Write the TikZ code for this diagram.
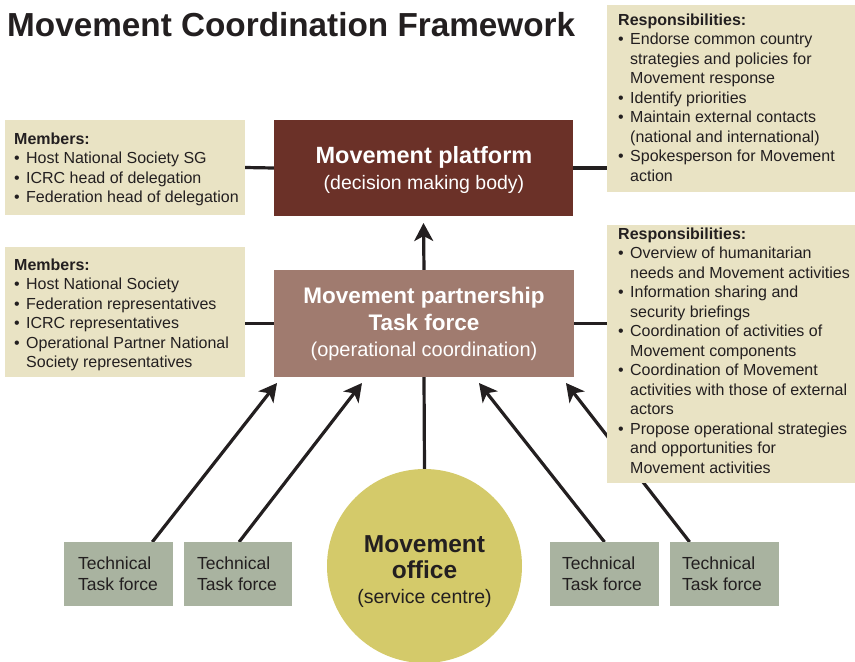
\documentclass[tikz,border=0pt]{standalone}
\usepackage{fontspec}
\setmainfont{Liberation Sans}
\usetikzlibrary{arrows.meta,shapes.geometric,backgrounds,calc}
\definecolor{beige}{HTML}{E9E3C4}
\definecolor{platbrown}{HTML}{6B3128}
\definecolor{tfbrown}{HTML}{A07B6F}
\definecolor{techgray}{HTML}{A9B3A0}
\definecolor{officeyel}{HTML}{D4CA6A}
\definecolor{ink}{HTML}{231F20}
\newcommand\bul{\makebox[12pt][l]{\textbullet}}
\newcommand\ind{\hspace*{12pt}}
\begin{document}
\begin{tikzpicture}[x=1pt,y=-1pt,
  box/.style={draw=none,inner sep=0pt,outer sep=0pt,anchor=north west},
  infotext/.style={inner sep=0pt,anchor=north west,align=left,text=ink,font=\fontsize{16}{19.5}\selectfont},
  techtext/.style={inner sep=0pt,anchor=north west,align=left,text=ink,font=\fontsize{17.5}{21}\selectfont},
  conn/.style={draw=ink,line width=3.2pt},
  arr/.style={conn,-{Stealth[length=18pt,width=19pt,inset=5pt]}},
  whitebold/.style={anchor=base,text=white,inner sep=0pt},
]
\useasboundingbox (0,0) rectangle (855,662);

% title
\node[anchor=base west,inner sep=0pt,text=ink,font=\bfseries\fontsize{33.3}{36}\selectfont] (title) at (7,36) {Movement Coordination Framework};

% boxes
\node[box,fill=beige,minimum width=240pt,minimum height=95pt] (m1) at (5,120) {};
\node[box,fill=platbrown,minimum width=299pt,minimum height=96pt] (plat) at (274,120) {};
\node[box,fill=beige,minimum width=248pt,minimum height=187pt] (r1) at (607,5) {};
\node[box,fill=beige,minimum width=240pt,minimum height=130pt] (m2) at (5,247) {};
\node[box,fill=tfbrown,minimum width=300pt,minimum height=107pt] (tf) at (274,270) {};
\node[box,fill=beige,minimum width=248pt,minimum height=258pt] (r2) at (607,225) {};
\node[ellipse,fill=officeyel,minimum width=195pt,minimum height=194pt,inner sep=0pt,outer sep=0pt] (off) at (424.5,566) {};
\node[box,fill=techgray,minimum width=109pt,minimum height=64pt] (t1) at (64,542) {};
\node[box,fill=techgray,minimum width=108pt,minimum height=64pt] (t2) at (184,542) {};
\node[box,fill=techgray,minimum width=109pt,minimum height=64pt] (t3) at (550,542) {};
\node[box,fill=techgray,minimum width=109pt,minimum height=64pt] (t4) at (670,542) {};

% connectors
\begin{scope}[on background layer]
\draw[conn] (m1.east) -- (plat.west);
\draw[conn] (plat.east) -- (plat.east -| r1.west);
\draw[conn] (m2.east |- tf.west) -- (tf.west);
\draw[conn] (tf.east) -- (tf.east -| r2.west);
\draw[arr] (tf.north) -- ($(plat.south)+(0,7)$);
\draw[conn] (off.north) -- (tf.south);
\draw[arr] ($(t1.north west)!0.81!(t1.north east)$) -- ($(tf.south west)+(3,6)$);
\draw[arr] ($(t2.north west)!0.51!(t2.north east)$) -- ($(tf.south west)+(88,6)$);
\draw[arr] ($(t3.north west)!0.50!(t3.north east)$) -- ($(tf.south west)+(205,6)$);
\draw[arr] ($(t4.north west)!0.18!(t4.north east)$) -- ($(tf.south west)+(292,6)$);
\end{scope}

% texts
\node[infotext] (m1t) at (14,132.5) {\textbf{Members:}\\
\bul Host National Society SG\\
\bul ICRC head of delegation\\
\bul Federation head of delegation};

\node[infotext] (m2t) at (14,258.5) {\textbf{Members:}\\
\bul Host National Society\\
\bul Federation representatives\\
\bul ICRC representatives\\
\bul Operational Partner National\\
\ind Society representatives};

\node[infotext] (r1t) at (618,13.5) {\textbf{Responsibilities:}\\
\bul Endorse common country\\
\ind strategies and policies for\\
\ind Movement response\\
\bul Identify priorities\\
\bul Maintain external contacts\\
\ind (national and international)\\
\bul Spokesperson for Movement\\
\ind action};

\node[infotext] (r2t) at (618,227.5) {\textbf{Responsibilities:}\\
\bul Overview of humanitarian\\
\ind needs and Movement activities\\
\bul Information sharing and\\
\ind security briefings\\
\bul Coordination of activities of\\
\ind Movement components\\
\bul Coordination of Movement\\
\ind activities with those of external\\
\ind actors\\
\bul Propose operational strategies\\
\ind and opportunities for\\
\ind Movement activities};

\node[whitebold,font=\bfseries\fontsize{23.5}{27}\selectfont] (platA) at (424,163) {Movement platform};
\node[whitebold,font=\fontsize{19.5}{24}\selectfont] (platB) at (424,189) {(decision making body)};

\node[whitebold,font=\bfseries\fontsize{22.5}{26}\selectfont] (tfA) at (424,303.5) {Movement partnership};
\node[whitebold,font=\bfseries\fontsize{22.5}{26}\selectfont] (tfB) at (424,330) {Task force};
\node[whitebold,font=\fontsize{20}{24}\selectfont] (tfC) at (424,356) {(operational coordination)};

\node[anchor=base,inner sep=0pt,text=ink,font=\bfseries\fontsize{24.5}{27}\selectfont] (offA) at (424.5,552) {Movement};
\node[anchor=base,inner sep=0pt,text=ink,font=\bfseries\fontsize{24.5}{27}\selectfont] (offB) at (424.5,578.5) {office};
\node[anchor=base,inner sep=0pt,text=ink,font=\fontsize{19.5}{24}\selectfont] (offC) at (424.5,603) {(service centre)};

\node[techtext] (t1t) at (78,556.5) {Technical\\Task force};
\node[techtext] (t2t) at (197,556.5) {Technical\\Task force};
\node[techtext] (t3t) at (562,556.5) {Technical\\Task force};
\node[techtext] (t4t) at (682,556.5) {Technical\\Task force};
\end{tikzpicture}
\end{document}
